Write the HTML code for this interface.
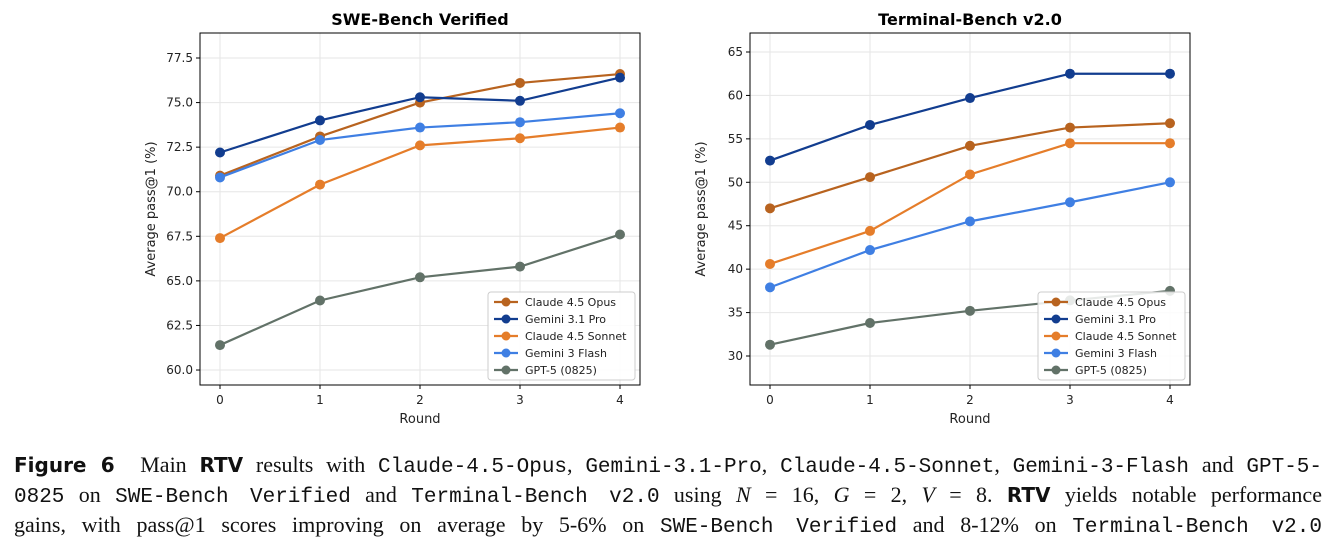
<!DOCTYPE html>
<html><head><meta charset="utf-8"><style>
body{margin:0;background:#fff;width:1339px;height:549px;overflow:hidden;font-family:"DejaVu Sans","Liberation Sans",sans-serif}
#cap{position:absolute;left:14px;top:450px;width:1308px;font-family:"Liberation Serif",serif;font-size:22px;line-height:30px;color:#111}
#cap div{text-align:justify;text-align-last:justify;height:30px;overflow:visible}
.tt{font-family:"Liberation Mono",monospace;font-size:21px}
.sb{font-family:"DejaVu Sans",sans-serif;font-weight:bold;font-size:20px}
</style></head><body>
<svg id="chart" width="1339" height="440" style="position:absolute;left:0;top:0"></svg>
<div id="cap">
<div><span class="sb">Figure 6</span>&nbsp; Main <span class="sb">RTV</span> results with <span class="tt">Claude-4.5-Opus</span>, <span class="tt">Gemini-3.1-Pro</span>, <span class="tt">Claude-4.5-Sonnet</span>, <span class="tt">Gemini-3-Flash</span> and <span class="tt">GPT-5-</span></div>
<div><span class="tt">0825</span> on <span class="tt">SWE-Bench Verified</span> and <span class="tt">Terminal-Bench v2.0</span> using <i>N</i> = 16, <i>G</i> = 2, <i>V</i> = 8. <span class="sb">RTV</span> yields notable performance</div>
<div>gains, with pass@1 scores improving on average by 5-6% on <span class="tt">SWE-Bench Verified</span> and 8-12% on <span class="tt">Terminal-Bench v2.0</span></div>
</div>
<script>
const rounds=[0,1,2,3,4];
const seriesNames=["Claude 4.5 Opus","Gemini 3.1 Pro","Claude 4.5 Sonnet","Gemini 3 Flash","GPT-5 (0825)"];
const colors=["#b8631f","#123d8f","#e57d2a","#3f7fe3","#627268"];
const sweOpus=[70.9,73.1,75.0,76.1,76.6];
const swePro=[72.2,74.0,75.3,75.1,76.4];
const sweSonnet=[67.4,70.4,72.6,73.0,73.6];
const sweFlash=[70.8,72.9,73.6,73.9,74.4];
const sweGpt=[61.4,63.9,65.2,65.8,67.6];
const tbOpus=[47.0,50.6,54.2,56.3,56.8];
const tbPro=[52.5,56.6,59.7,62.5,62.5];
const tbSonnet=[40.6,44.4,50.9,54.5,54.5];
const tbFlash=[37.9,42.2,45.5,47.7,50.0];
const tbGpt=[31.3,33.8,35.2,36.4,37.5];
const sweTicks=[60.0,62.5,65.0,67.5,70.0,72.5,75.0,77.5];
const tbTicks=[30,35,40,45,50,55,60,65];
const NS="http://www.w3.org/2000/svg";
const svg=document.getElementById('chart');
function mk(t,a,p){const e=document.createElementNS(NS,t);for(const k in a)e.setAttribute(k,a[k]);(p||svg).appendChild(e);return e;}
function panel(cfg){
  const g=mk('g',{});
  
  
  const L=cfg.x0,R=cfg.x0+440,T=33,B=385;
  const xs=v=>L+20+v*100;
  const ys=v=>cfg.yRef+(cfg.vRef-v)*cfg.ppu;
  cfg.ticks.forEach(t=>{
    const y=ys(t);
    mk('line',{x1:L,x2:R,y1:y,y2:y,stroke:'#e6e6e6','stroke-width':1},g);
    mk('line',{x1:L-4,x2:L,y1:y,y2:y,stroke:'#000'},g);
    const tx=mk('text',{x:L-7,y:y+4,'text-anchor':'end','font-size':12,fill:'#222'},g);
    tx.textContent=cfg.dec?t.toFixed(1):t;
    
    
  });
  rounds.forEach(r=>{
    const x=xs(r);
    mk('line',{x1:x,x2:x,y1:T,y2:B,stroke:'#e6e6e6'},g);
    mk('line',{x1:x,x2:x,y1:B,y2:B+4,stroke:'#000'},g);
    const tx=mk('text',{x:x,y:B+19,'text-anchor':'middle','font-size':12,fill:'#222'},g);
    tx.textContent=r;
    
    
  });
  cfg.data.forEach((d,i)=>{
    const pl=mk('polyline',{points:d.map((v,j)=>xs(rounds[j])+','+ys(v)).join(' '),fill:'none',stroke:colors[i],'stroke-width':2.2},g);
    
    
    d.forEach((v,j)=>{
      const c=mk('circle',{cx:xs(rounds[j]),cy:ys(v),r:5,fill:colors[i]},g);
      
      
    });
  });
  mk('rect',{x:L,y:T,width:440,height:B-T,fill:'none',stroke:'#000','stroke-width':1},g);
  const ti=mk('text',{x:(L+R)/2,y:25,'text-anchor':'middle','font-size':16,'font-weight':'bold'},g);
  ti.textContent=cfg.title;
  
  
  const xl=mk('text',{x:(L+R)/2,y:423,'text-anchor':'middle','font-size':13,fill:'#222'},g);
  xl.textContent='Round';
  
  
  const yl=mk('text',{x:0,y:0,'text-anchor':'middle','font-size':13,fill:'#222',transform:`translate(${L-45},${(T+B)/2}) rotate(-90)`},g);
  yl.textContent='Average pass@1 (%)';
  
  
  const lg=mk('g',{},g);
  
  
  const lx=R-152,ly=292;
  mk('rect',{x:lx,y:ly,width:147,height:88,rx:3,fill:'#fff','fill-opacity':0.85,stroke:'#ccc'},lg);
  seriesNames.forEach((n,i)=>{
    const y=ly+10+i*17;
    const e=mk('g',{},lg);
    
    
    mk('line',{x1:lx+6,x2:lx+30,y1:y,y2:y,stroke:colors[i],'stroke-width':2.2},e);
    mk('circle',{cx:lx+18,cy:y,r:4.5,fill:colors[i]},e);
    const t=mk('text',{x:lx+37,y:y+4,'font-size':11,fill:'#222'},e);
    t.textContent=n;
  });
}
panel({name:'swe-bench-chart',title:'SWE-Bench Verified',x0:200,yRef:58,vRef:77.5,ppu:17.83,ticks:sweTicks,dec:true,data:[sweOpus,swePro,sweSonnet,sweFlash,sweGpt]});
panel({name:'terminal-bench-chart',title:'Terminal-Bench v2.0',x0:750,yRef:52,vRef:65,ppu:8.686,ticks:tbTicks,dec:false,data:[tbOpus,tbPro,tbSonnet,tbFlash,tbGpt]});
</script>
</body></html>
